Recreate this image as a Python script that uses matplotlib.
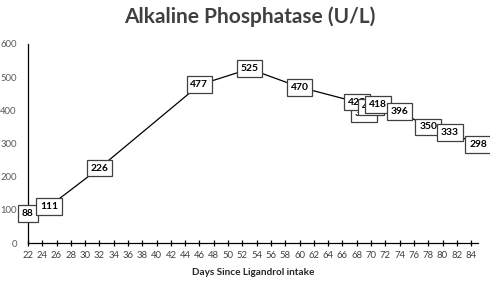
import matplotlib
matplotlib.use("Agg")
import matplotlib.pyplot as plt

days = [22, 25, 32, 46, 53, 60, 68, 69, 70, 71, 74, 78, 81, 85]
alp = [88, 111, 226, 477, 525, 470, 425, 390, 410, 418, 396, 350, 333, 298]
x_ticks = list(range(22, 85, 2))
y_ticks = [0, 100, 200, 300, 400, 500, 600]

plt.rcParams['font.family'] = ['Lato', 'DejaVu Sans']

fig = plt.figure(figsize=(4.9, 2.82), dpi=100)
ax = fig.add_axes([0.057, 0.138, 0.919, 0.706])

ax.plot(days, alp, color='black', lw=0.9, zorder=2)
order_z = [3, 4, 5, 6, 7, 8, 10, 9, 11, 12, 13, 14, 15, 16]
for d, v, z in zip(days, alp, order_z):
    ax.annotate(str(v), (d, v), ha='center', va='center', fontsize=7.4,
                fontweight='bold', color='black', zorder=z,
                bbox=dict(boxstyle='square,pad=0.38', fc='white', ec='#404040', lw=0.9))

ax.set_xlim(22, 85)
ax.set_ylim(0, 600)
ax.set_xticks(x_ticks)
ax.set_xticklabels([str(t) for t in x_ticks])
ax.set_yticks(y_ticks)
ax.tick_params(axis='x', direction='inout', length=5, width=0.9, labelsize=6.8,
               labelcolor='#404040', pad=3)
ax.tick_params(axis='y', length=0, labelsize=6.8, labelcolor='#595959', pad=8)
for s in ['top', 'right']:
    ax.spines[s].set_visible(False)
for s in ['left', 'bottom']:
    ax.spines[s].set_linewidth(0.9)

ax.set_xlabel('Days Since Ligandrol intake', fontsize=7.2, fontweight='bold',
              color='#262626', labelpad=6)
fig.text(0.51, 0.94, 'Alkaline Phosphatase (U/L)', ha='center', va='center',
         fontsize=15, fontweight='bold', color='#404040')

fig.savefig('out.png', dpi=100)
